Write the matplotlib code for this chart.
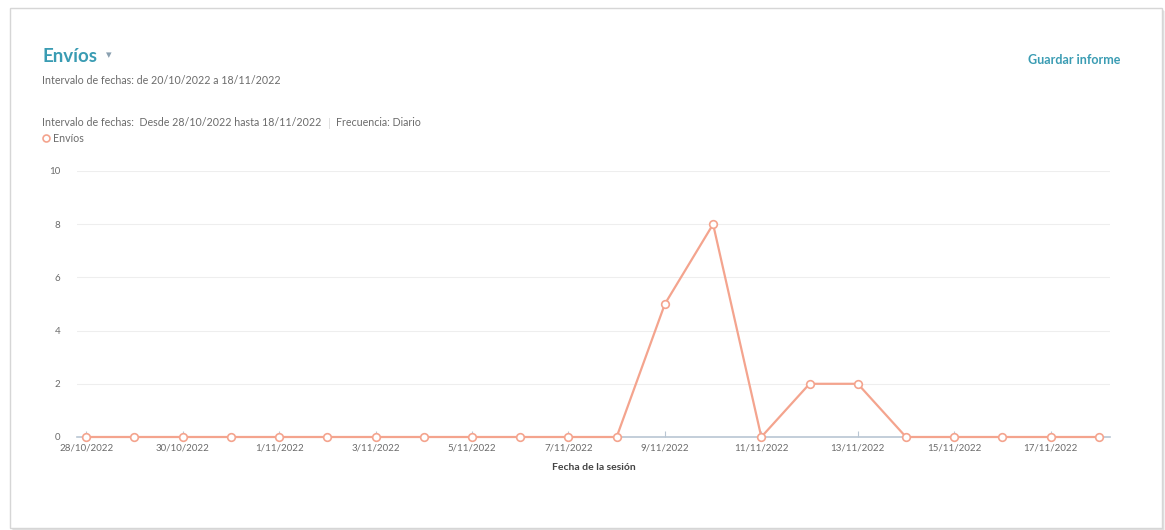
import matplotlib
matplotlib.use("Agg")
import matplotlib.pyplot as plt
from matplotlib.patches import Rectangle

plt.rcParams['font.family'] = ['Lato', 'DejaVu Sans']

# data
fechas = ["28/10/2022", "29/10/2022", "30/10/2022", "31/10/2022", "1/11/2022",
          "2/11/2022", "3/11/2022", "4/11/2022", "5/11/2022", "6/11/2022",
          "7/11/2022", "8/11/2022", "9/11/2022", "10/11/2022", "11/11/2022",
          "12/11/2022", "13/11/2022", "14/11/2022", "15/11/2022", "16/11/2022",
          "17/11/2022", "18/11/2022"]
envios = [0, 0, 0, 0, 0, 0, 0, 0, 0, 0, 0, 0, 5, 8, 0, 2, 2, 0, 0, 0, 0, 0]
y_ticks = [0, 2, 4, 6, 8, 10]

teal = "#3a9cb3"
salmon = "#f4a48e"
gray_txt = "#6b6b6b"

fig = plt.figure(figsize=(11.65, 5.3), dpi=100)
fig.patch.set_facecolor("white")

# card with a soft shadow
W, H = 1165, 530
for i, a in enumerate([0.05, 0.08, 0.12]):
    off = 3 - i
    fig.patches.append(Rectangle(((10 + off) / W, (2 - off) / H), 1152 / W, 520 / H,
                                 transform=fig.transFigure, facecolor="#000000",
                                 alpha=a, edgecolor="none", zorder=0))
fig.patches.append(Rectangle((10 / W, 2 / H), 1152 / W, 520 / H,
                             transform=fig.transFigure, facecolor="white",
                             edgecolor="#d6d6d6", linewidth=1, zorder=1))

ax = fig.add_axes([77 / W, 1 - 437 / H, 1033 / W, 266 / H])
ax.set_facecolor("none")
ax.set_zorder(2)

x = list(range(len(fechas)))
ax.plot(x, envios, color=salmon, linewidth=1.6, marker="o", markersize=5.5,
        markerfacecolor="white", markeredgecolor=salmon, markeredgewidth=1.2,
        clip_on=False, zorder=3)

ax.set_xlim(-0.19, 21.23)
ax.set_ylim(0, 10)
ax.set_yticks(y_ticks)
ax.set_yticklabels([str(v) for v in y_ticks], fontsize=7, color=gray_txt)
ax.set_xticks(x[::2])
ax.set_xticklabels(fechas[::2], fontsize=7, color=gray_txt)
ax.tick_params(axis="y", length=0, pad=12)
ax.tick_params(axis="x", direction="in", length=4, color="#b9c6d3", pad=5)

ax.grid(axis="y", color="#eeeeee", linewidth=0.8)
ax.set_axisbelow(True)
for s in ["top", "right", "left"]:
    ax.spines[s].set_visible(False)
ax.spines["bottom"].set_color("#b9c6d3")
ax.spines["bottom"].set_linewidth(1.2)

ax.set_xlabel("Fecha de la sesión", fontsize=7.5, color="#444444",
              fontweight="bold", labelpad=7)

# header texts
fig.text(42 / W, 1 - 62 / H, "Envíos", fontsize=13.5, color=teal, fontweight="bold")
fig.text(106 / W, 1 - 58 / H, "▾", fontsize=8, color="#8aa0b0",
         family=["DejaVu Sans"])
fig.text(42 / W, 1 - 84 / H, "Intervalo de fechas: de 20/10/2022 a 18/11/2022",
         fontsize=7.7, color=gray_txt)
fig.text(42 / W, 1 - 126 / H,
         "Intervalo de fechas:  Desde 28/10/2022 hasta 18/11/2022",
         fontsize=7.7, color=gray_txt)
fig.text(328 / W, 1 - 127 / H, "|", fontsize=8.5, color="#dddddd")
fig.text(336 / W, 1 - 126 / H, "Frecuencia: Diario", fontsize=7.7, color=gray_txt)
fig.lines.append(plt.Line2D([46 / W], [1 - 138 / H], transform=fig.transFigure,
                            marker="o", markersize=5, markerfacecolor="white",
                            markeredgecolor=salmon, markeredgewidth=1.2))
fig.text(53 / W, 1 - 142 / H, "Envíos", fontsize=7.7, color=gray_txt)
fig.text(1120 / W, 1 - 64 / H, "Guardar informe", fontsize=9, color=teal,
         fontweight="bold", ha="right")

fig.savefig("out.png", dpi=100)
